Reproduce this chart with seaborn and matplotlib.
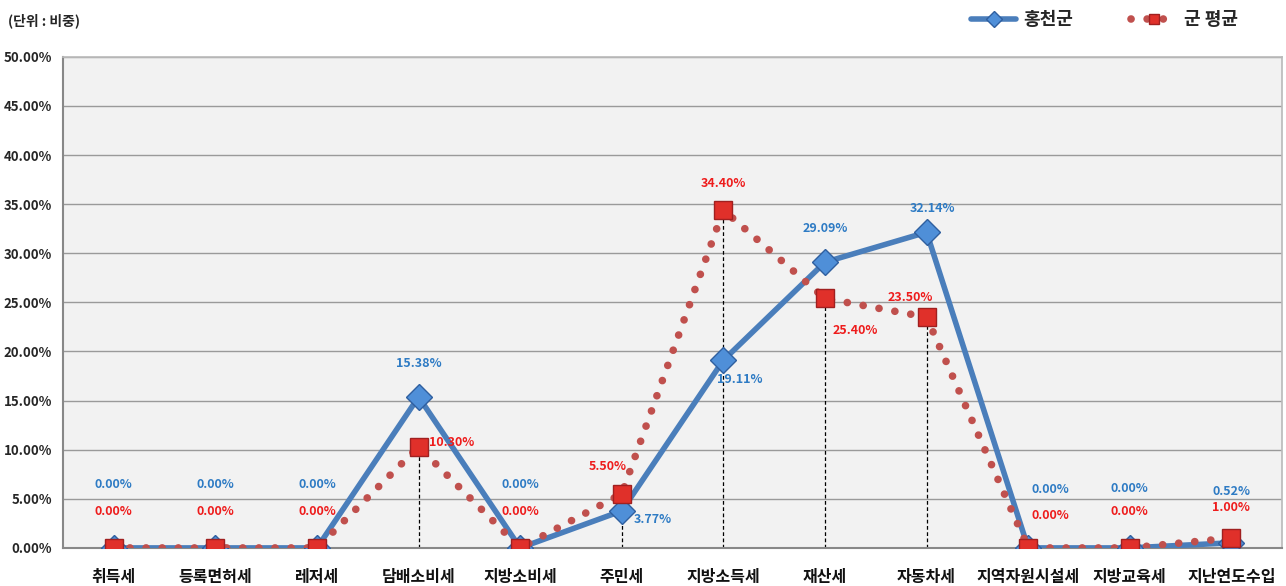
import numpy as np
import pandas as pd
import matplotlib
matplotlib.use("Agg")
import matplotlib.pyplot as plt
import seaborn as sns
from matplotlib.ticker import FuncFormatter, FixedLocator

# data
categories = ['취득세', '등록면허세', '레저세', '담배소비세', '지방소비세', '주민세',
              '지방소득세', '재산세', '자동차세', '지역자원시설세', '지방교육세', '지난연도수입']
hongcheon = [0.00, 0.00, 0.00, 15.38, 0.00, 3.77, 19.11, 29.09, 32.14, 0.00, 0.00, 0.52]
gun_avg = [0.00, 0.00, 0.00, 10.30, 0.00, 5.50, 34.40, 25.40, 23.50, 0.00, 0.00, 1.00]
y_ticks = [0, 5, 10, 15, 20, 25, 30, 35, 40, 45, 50]

sns.set_theme(style="white")
plt.rcParams['font.family'] = ['Noto Sans CJK KR', 'DejaVu Sans']

df = pd.DataFrame({'x': np.arange(len(categories)), 'hong': hongcheon, 'avg': gun_avg})

blue = '#4a7ebb'
red = '#c0504d'
blue_txt = '#2e7bc4'
red_txt = '#ee1c1c'

fig = plt.figure(figsize=(12.86, 5.86), dpi=100)
ax = fig.add_axes([0.049, 0.065, 0.948, 0.838])
ax.set_facecolor('#f2f2f2')

# drop lines (from 군 평균 series)
for i, v in enumerate(gun_avg):
    if v > 0:
        ax.vlines(i, 0, v, colors='black', linestyles=(0, (3, 2)), linewidth=0.9, zorder=2)

sns.lineplot(data=df, x='x', y='hong', ax=ax, color=blue, linewidth=4,
             marker='D', markersize=13, markerfacecolor='#4f8fd8',
             markeredgecolor='#2f5f9f', markeredgewidth=1, zorder=3, label='홍천군')
sns.lineplot(data=df, x='x', y='avg', ax=ax, color=red, linewidth=5.5,
             linestyle=(0, (0.01, 2.1)), dash_capstyle='round',
             marker='s', markersize=12.5, markerfacecolor='#e0302a',
             markeredgecolor='#a02020', markeredgewidth=1, zorder=4, label='군 평균')

ax.set_xlim(-0.5, len(categories) - 0.5)
ax.set_ylim(0, 50)
ax.yaxis.set_major_locator(FixedLocator(y_ticks))
ax.yaxis.set_major_formatter(FuncFormatter(lambda v, p: f'{v:.2f}%'))
ax.set_xticks(np.arange(len(categories)))
ax.set_xticklabels(categories, fontsize=11.5, fontweight='bold', color='#111111')
ax.set_xticks(np.arange(len(categories) + 1) - 0.5, minor=True)
ax.tick_params(axis='x', which='major', length=0, pad=15)
ax.tick_params(axis='x', which='minor', length=5, direction='in', color='#888888')
ax.tick_params(axis='y', length=0, labelsize=9.5, pad=8)
for lab in ax.get_yticklabels():
    lab.set_fontweight('bold')
ax.set_xlabel('')
ax.set_ylabel('')
ax.grid(axis='y', color='#9a9a9a', linewidth=1)
ax.set_axisbelow(True)
for s in ['top', 'right']:
    ax.spines[s].set_color('#bbbbbb')
for s in ['left', 'bottom']:
    ax.spines[s].set_color('#888888')
    ax.spines[s].set_linewidth(1.5)

# data labels (offsets in points)
hong_off = [(0, 46), (0, 46), (0, 46), (0, 24), (0, 46), (22, -6), (12, -14),
            (0, 24), (4, 17), (16, 42), (0, 43), (0, 37)]
avg_off = [(0, 26), (0, 26), (0, 26), (24, 3), (0, 26), (-10, 20), (0, 19),
           (22, -23), (-12, 14), (16, 23), (0, 26), (0, 22)]
for i in range(len(categories)):
    ax.annotate(f'{hongcheon[i]:.2f}%', (i, hongcheon[i]), xytext=hong_off[i],
                textcoords='offset points', ha='center', va='center',
                fontsize=9, fontweight='bold', color=blue_txt, zorder=6)
    ax.annotate(f'{gun_avg[i]:.2f}%', (i, gun_avg[i]), xytext=avg_off[i],
                textcoords='offset points', ha='center', va='center',
                fontsize=9, fontweight='bold', color=red_txt, zorder=6)

ax.legend_.remove()
handles, labels = ax.get_legend_handles_labels()
fig.legend(handles, labels, loc='upper right', bbox_to_anchor=(0.975, 1.01), ncol=2,
           frameon=False, prop={'size': 13, 'weight': 'bold'}, handlelength=2.5,
           handletextpad=0.4, columnspacing=3.2, markerscale=0.6)

fig.text(0.006, 0.965, '(단위 : 비중)', fontsize=10, fontweight='bold', va='center')

fig.savefig('out.png', dpi=100)
